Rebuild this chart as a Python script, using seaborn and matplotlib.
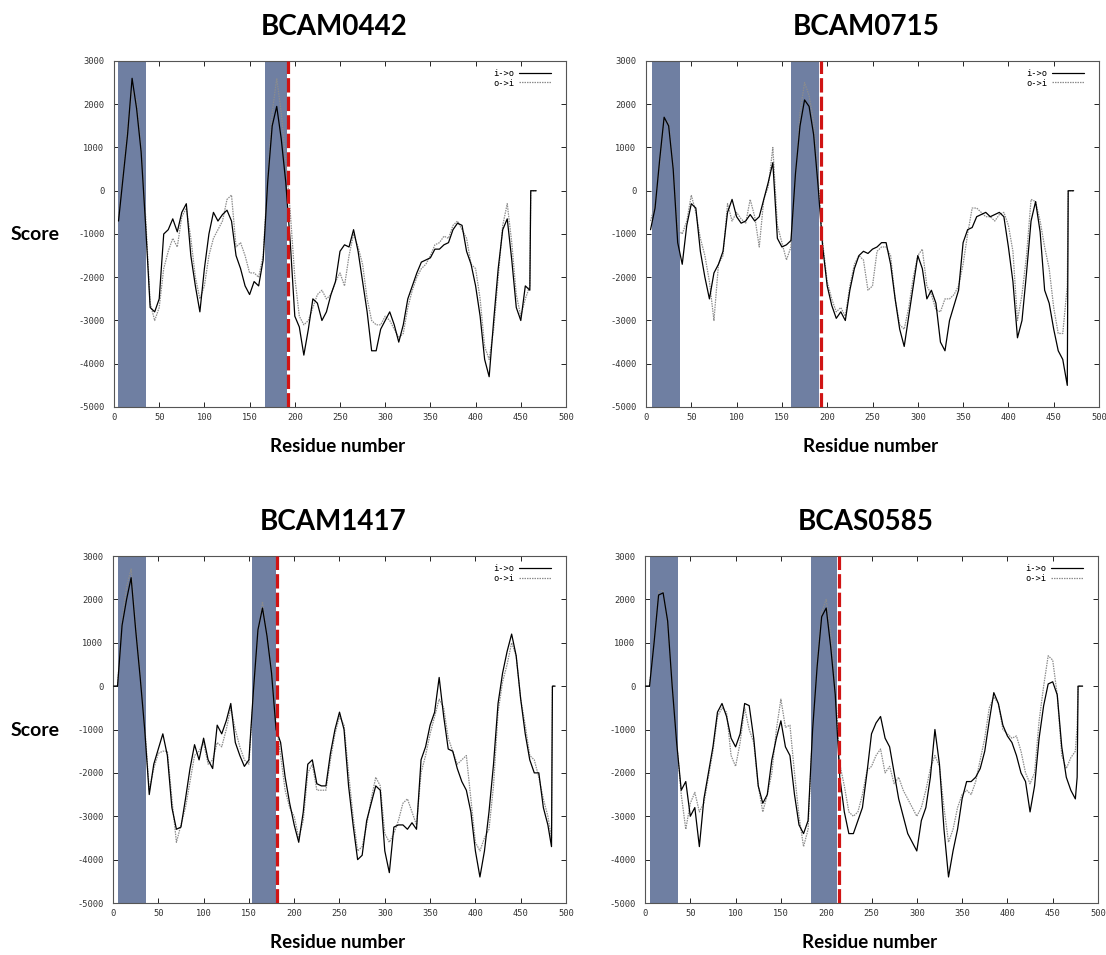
import numpy as np
import pandas as pd
import matplotlib
matplotlib.use("Agg")
import matplotlib.pyplot as plt
from matplotlib.lines import Line2D
import seaborn as sns

# ---------------------------------------------------------------------------
# TMpred-style hydropathy profiles (score vs. residue number)
# ---------------------------------------------------------------------------
TITLES = ["BCAM0442", "BCAM0715", "BCAM1417", "BCAS0585"]
DIRECTIONS = ["i->o", "o->i"]

# BCAM0442
BCAM0442_RES = list(range(5, 461, 5)) + [461, 467]
BCAM0442_IO = [-700, 300, 1300, 2600, 1900, 900, -800, -2700, -2800, -2500,
               -1000, -900, -650, -950, -500, -300, -1500, -2200, -2800, -1800,
               -1000, -500, -700, -550, -450, -700, -1500, -1800, -2200, -2400,
               -2100, -2200, -1600, 200, 1500, 1950, 1200, 200, -1200, -2900,
               -3150, -3800, -3200, -2500, -2600, -3000, -2800, -2400, -2100, -1400,
               -1250, -1300, -900, -1400, -2100, -2800, -3700, -3700, -3200, -3000,
               -2800, -3100, -3500, -3100, -2500, -2200, -1900, -1650, -1600, -1550,
               -1350, -1350, -1250, -1200, -900, -750, -800, -1400, -1700, -2200,
               -2900, -3900, -4300, -3000, -1800, -900, -650, -1600, -2700, -3000,
               -2200, -2300, 0, 0]
BCAM0442_OI = [-600, 400, 1500, 2300, 2100, 1000, -600, -2600, -3000, -2700,
               -1800, -1400, -1100, -1300, -600, -400, -1100, -2000, -2500, -2200,
               -1500, -1100, -900, -700, -200, -100, -1300, -1200, -1500, -1900,
               -1900, -2000, -1500, 300, 1800, 2600, 1800, 700, -500, -2000,
               -2900, -3100, -3000, -2700, -2400, -2300, -2500, -2400, -2100, -1900,
               -2200, -1500, -1000, -1300, -1700, -2500, -3000, -3100, -3100, -2900,
               -3000, -3200, -3400, -3300, -2700, -2300, -2000, -1800, -1700, -1500,
               -1250, -1200, -1050, -1100, -800, -700, -900, -1100, -1700, -1800,
               -2500, -3600, -3900, -3200, -2000, -800, -300, -1200, -2400, -2900,
               -2500, -2200, 0, 0]
BCAM0442_TM = [(4.5, 35.5), (167.5, 191.0)]
BCAM0442_CUT = 192.7

# BCAM0715
BCAM0715_RES = list(range(5, 466, 5)) + [466, 472]
BCAM0715_IO = [-900, -400, 700, 1700, 1500, 500, -1200, -1700, -800, -300,
               -400, -1400, -2000, -2500, -1900, -1700, -1400, -500, -200, -600,
               -750, -700, -550, -700, -600, -200, 200, 650, -1100, -1300,
               -1250, -1150, 400, 1500, 2100, 1950, 1300, 100, -1300, -2200,
               -2650, -2950, -2800, -3000, -2300, -1800, -1500, -1400, -1450, -1350,
               -1300, -1200, -1200, -1700, -2500, -3200, -3600, -2900, -2200, -1500,
               -1800, -2500, -2300, -2600, -3500, -3700, -3000, -2650, -2300, -1200,
               -900, -850, -600, -550, -500, -600, -550, -500, -600, -1300,
               -2100, -3400, -3000, -1900, -700, -250, -950, -2300, -2600, -3200,
               -3700, -3900, -4500, 0, 0]
BCAM0715_OI = [-700, -300, 600, 1600, 1600, 600, -900, -1000, -700, -100,
               -500, -1100, -1500, -2100, -3000, -1700, -1500, -300, -700, -500,
               -650, -750, -200, -600, -1300, -200, 100, 1000, -800, -1200,
               -1600, -1300, 300, 1800, 2500, 2200, 1600, 300, -1200, -2100,
               -2500, -2800, -2700, -2900, -2200, -1700, -1500, -1600, -2300, -2200,
               -1400, -1300, -1300, -1500, -2500, -3100, -3200, -2700, -2000, -1500,
               -1350, -2200, -2400, -2750, -2800, -2500, -2500, -2400, -2200, -1700,
               -1000, -400, -400, -500, -600, -600, -700, -550, -500, -800,
               -1400, -3000, -2400, -1500, -200, -250, -700, -1300, -1800, -2700,
               -3300, -3300, -2200, 0, 0]
BCAM0715_TM = [(7.0, 38.0), (160.5, 191.5)]
BCAM0715_CUT = 193.3

# BCAM1417
BCAM1417_RES = list(range(0, 481, 5)) + [484, 485, 488]
BCAM1417_IO = [0, 0, 1400, 2000, 2500, 1300, 200, -1000, -2500, -1800,
               -1450, -1100, -1600, -2800, -3300, -3250, -2600, -1900, -1350, -1700,
               -1200, -1700, -1900, -900, -1100, -800, -400, -1300, -1600, -1850,
               -1700, -100, 1300, 1800, 1150, 300, -1000, -1300, -2100, -2700,
               -3200, -3600, -2900, -1800, -1700, -2250, -2300, -2300, -1550, -1000,
               -600, -1000, -2300, -3200, -4000, -3900, -3100, -2700, -2300, -2400,
               -3800, -4300, -3250, -3200, -3200, -3300, -3150, -3300, -1700, -1400,
               -900, -600, 200, -700, -1450, -1500, -1900, -2200, -2400, -2900,
               -3800, -4400, -3800, -2900, -1800, -400, 300, 800, 1200, 700,
               -300, -1100, -1700, -2000, -2000, -2800, -3200, -3700, 0, 0]
BCAM1417_OI = [0, 0, 1500, 2300, 2700, 1500, 300, -900, -2400, -1900,
               -1550, -1500, -1500, -2600, -3600, -3200, -2800, -2200, -1600, -1500,
               -1300, -1800, -1700, -1300, -1400, -1000, -500, -1000, -1400, -1700,
               -1800, -200, 1200, 1950, 1200, 400, -900, -1600, -2400, -2800,
               -3000, -3500, -3100, -2000, -1800, -2400, -2400, -2400, -1700, -1100,
               -700, -900, -2000, -3000, -3800, -3700, -3200, -2600, -2100, -2300,
               -3400, -3600, -3400, -3100, -2700, -2600, -2900, -3200, -2000, -1600,
               -1100, -700, -300, -500, -1200, -1500, -1800, -1700, -1600, -2600,
               -3600, -3800, -3500, -3300, -2300, -600, 100, 500, 1000, 700,
               -300, -900, -1600, -1700, -2100, -2600, -3000, -3500, 0, 0]
BCAM1417_TM = [(5.0, 36.0), (153.0, 179.5)]
BCAM1417_CUT = 181.3

# BCAS0585
BCAS0585_RES = list(range(0, 476, 5)) + [477, 478, 483]
BCAS0585_IO = [0, 0, 1000, 2100, 2150, 1500, 0, -1320, -2400, -2200,
               -3000, -2800, -3700, -2600, -2000, -1400, -600, -400, -700, -1200,
               -1400, -1100, -400, -450, -1200, -2300, -2700, -2500, -1700, -1200,
               -800, -1400, -1600, -2500, -3200, -3400, -3100, -1000, 450, 1600,
               1800, 900, -200, -2100, -2900, -3400, -3400, -3100, -2800, -2000,
               -1100, -850, -700, -1200, -1400, -2000, -2600, -3000, -3400, -3600,
               -3800, -3100, -2800, -2100, -1000, -1800, -3300, -4400, -3800, -3300,
               -2600, -2200, -2200, -2100, -1900, -1500, -800, -150, -400, -900,
               -1150, -1300, -1600, -2000, -2200, -2900, -2300, -1200, -450, 50,
               100, -200, -1400, -2100, -2400, -2600, -2100, 0, 0]
BCAS0585_OI = [0, 0, 1100, 2200, 2200, 1400, 100, -1300, -2500, -3300,
               -2700, -2450, -2900, -2700, -2100, -1500, -700, -500, -600, -1600,
               -1850, -1300, -500, -1000, -1300, -2300, -2900, -2500, -2000, -1000,
               -300, -950, -900, -2000, -3000, -3700, -3300, -1000, 600, 1700,
               2000, 1200, 0, -1800, -2300, -2900, -3000, -2900, -2500, -1950,
               -1850, -1600, -1450, -2000, -1850, -2250, -2100, -2400, -2600, -2800,
               -3000, -2800, -2400, -1900, -1600, -1850, -2800, -3600, -3300, -2800,
               -2500, -2400, -2500, -2200, -1700, -1200, -500, -250, -400, -1000,
               -1100, -1200, -1150, -1500, -2000, -2250, -2000, -800, 0, 700,
               600, -200, -1600, -1900, -1650, -1500, -900, 0, 0]
BCAS0585_TM = [(5.5, 36.5), (183.0, 212.0)]
BCAS0585_CUT = 213.6

X_TICKS = list(range(0, 501, 50))
Y_TICKS = list(range(-5000, 3001, 1000))

PANELS = [
    (BCAM0442_RES, BCAM0442_IO, BCAM0442_OI, BCAM0442_TM, BCAM0442_CUT),
    (BCAM0715_RES, BCAM0715_IO, BCAM0715_OI, BCAM0715_TM, BCAM0715_CUT),
    (BCAM1417_RES, BCAM1417_IO, BCAM1417_OI, BCAM1417_TM, BCAM1417_CUT),
    (BCAS0585_RES, BCAS0585_IO, BCAS0585_OI, BCAS0585_TM, BCAS0585_CUT),
]

# ---------------------------------------------------------------------------
sns.set_theme(style="ticks")
plt.rcParams["font.family"] = ["Lato", "DejaVu Sans"]
plt.rcParams["text.color"] = "black"

W, H = 1106, 955
fig = plt.figure(figsize=(W / 100, H / 100), dpi=100, facecolor="white")

# axes boxes in pixels: left, top, right, bottom
BOXES = [(114, 61, 566, 407), (646, 61, 1099, 407),
         (113, 556, 566, 903), (645, 556, 1098, 903)]

TM_COLOR = "#6f7fa2"
CUT_COLOR = "#d01414"
OI_COLOR = "#8c8c8c"
TICK_FONT = {"family": "DejaVu Sans Mono", "size": 6.3, "color": "#333333"}

for (res, io, oi, tm, cut), title, (l, t, r, b) in zip(PANELS, TITLES, BOXES):
    ax = fig.add_axes([l / W, 1 - b / H, (r - l) / W, (b - t) / H])
    ax.set_facecolor("white")

    for start, end in tm:
        ax.axvspan(start, end, color=TM_COLOR, lw=0, zorder=1)

    df = pd.DataFrame({
        "residue": list(res) * 2,
        "score": list(io) + list(oi),
        "direction": [DIRECTIONS[0]] * len(res) + [DIRECTIONS[1]] * len(res),
    })
    sns.lineplot(data=df[df.direction == "o->i"], x="residue", y="score",
                 color=OI_COLOR, lw=0.9, linestyle=(0, (1.2, 0.8)),
                 estimator=None, sort=False, ax=ax, zorder=3)
    sns.lineplot(data=df[df.direction == "i->o"], x="residue", y="score",
                 color="black", lw=0.9, estimator=None, sort=False,
                 ax=ax, zorder=4)

    ax.axvline(cut, color=CUT_COLOR, lw=2.3, linestyle=(0, (4.5, 1.3)), zorder=5)

    ax.set_xlim(0, 500)
    ax.set_ylim(-5000, 3000)
    ax.set_xticks(X_TICKS)
    ax.set_yticks(Y_TICKS)
    ax.set_xticklabels([str(v) for v in X_TICKS], fontdict=TICK_FONT)
    ax.set_yticklabels([str(v) for v in Y_TICKS], fontdict=TICK_FONT)
    ax.tick_params(direction="in", top=True, right=True, length=3.5,
                   width=0.7, color="#222222")
    ax.tick_params(axis="x", pad=4)
    ax.tick_params(axis="y", pad=7)
    for sp in ax.spines.values():
        sp.set_color("#555555")
        sp.set_linewidth(0.8)
    ax.set_xlabel("")
    ax.set_ylabel("")

    handles = [Line2D([], [], color="black", lw=0.9),
               Line2D([], [], color=OI_COLOR, lw=0.9, linestyle=(0, (1.2, 0.8)))]
    ax.legend(handles, DIRECTIONS, loc="upper right",
              bbox_to_anchor=(1 - 9 / (r - l), 1 - 2 / (b - t)),
              frameon=False, markerfirst=False, handlelength=3.6,
              handletextpad=0.6, labelspacing=0.05, borderpad=0.2,
              prop={"family": "DejaVu Sans Mono", "size": 6.3})

    cx = (l + r) / 2 / W
    fig.text(cx - 6 / W, 1 - (t - 34) / H, title, ha="center", va="center",
             fontsize=20, fontweight="bold", color="black")
    fig.text(cx - 2 / W, 1 - (b + 39) / H, "Residue number", ha="center",
             va="center", fontsize=13.5, fontweight="bold", color="black")

for yc in (235, 730):
    fig.text(35.5 / W, 1 - yc / H, "Score", ha="center", va="center",
             fontsize=14, fontweight="bold", color="black")

fig.savefig("out.png", dpi=100, facecolor="white")
